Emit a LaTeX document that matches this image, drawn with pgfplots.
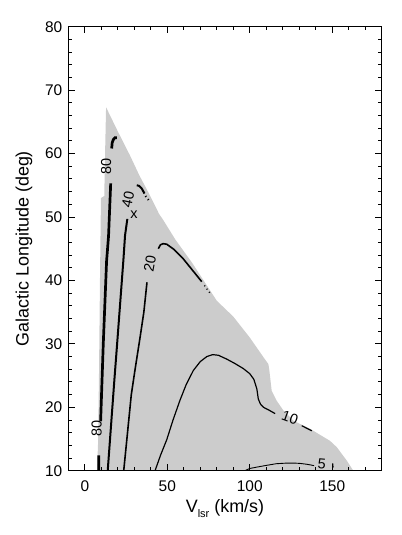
\documentclass[border=0pt]{standalone}
\usepackage{pgfplots}
\pgfplotsset{compat=1.18}
\usepackage{fontspec}
\setmainfont{Liberation Sans}
\definecolor{regiongray}{RGB}{204,204,204}

\begin{document}
\begin{tikzpicture}
\begin{axis}[
    scale only axis,
    width=313.4bp, height=444bp,
    xmin=-10, xmax=180,
    ymin=10, ymax=80,
    xtick={0,50,...,150},
    minor xtick={-10,0,...,180},
    ytick={10,20,...,80},
    minor ytick={10,12,...,80},
    tick align=inside,
    xtick pos=both, ytick pos=both,
    major tick length=6.5bp,
    minor tick length=3.5bp,
    axis line style={line width=0.9bp},
    every tick/.style={black, line width=0.9bp},
    axis on top,
    /pgf/number format/assume math mode=true,
    tick label style={font=\fontsize{15.5}{18}\selectfont},
    xticklabel style={yshift=-6bp},
    yticklabel style={xshift=-2.5bp},
    xlabel={V\raisebox{-0.45ex}{\fontsize{11}{13}\selectfont lsr} (km/s)},
    ylabel={Galactic Longitude (deg)},
    every axis x label/.style={at={(axis description cs:0.5,-0.095)},
        anchor=base, font=\fontsize{18}{21}\selectfont},
    every axis y label/.style={at={(axis description cs:-0.1414,0.5)},
        anchor=center, rotate=90, font=\fontsize{18}{21}\selectfont},
]

% region covered by the model
\addplot[fill=regiongray, draw=none] coordinates {
    (7.4,10) (8.0,14) (8.6,25) (9.2,40) (9.8,53) (11.8,53.3) (12.3,60)
    (12.9,67.3) (20,63.5) (27.4,59.7) (33,56.6) (39.5,53.4) (45,50.5)
    (47.6,49.5) (55,46.4) (65,42.8) (72,40) (80,36.8) (90,34.3) (100,31)
    (108.3,27.9) (111.3,26.8) (111.9,25.8) (113.3,22.6) (116.4,21.0)
    (120.4,19.5) (126.4,17.9) (136.6,16.6) (148.7,14.7) (152.8,13.7)
    (158.8,11.6) (162.8,10)
} \closedcycle;

% contour 80
\addplot[black, line width=2.7bp] coordinates {
    (16.3,60.8) (16.6,61.7) (17.3,62.2) (18.3,62.5) (19.5,62.5)
};
\addplot[black, line width=2.7bp] coordinates {
    (15.7,55.3) (14.4,47) (13.2,43) (11.2,30) (9.6,17.8)
};
\addplot[black, line width=2.7bp] coordinates {
    (8.5,12.4) (8.4,10)
};

% contour 40
\addplot[black, line width=2bp] coordinates {
    (25.8,49.7) (24.4,47.1) (23.4,43.2) (19.6,30) (17.9,24.2) (13.9,10)
};
\addplot[black, line width=2bp] coordinates {
    (31.5,55.0) (33,54.9) (34.5,54.5) (36.2,53.7)
};
\addplot[black, line width=2bp, dash pattern=on 1bp off 3bp] coordinates {
    (36.8,53.3) (39.5,52.4)
};

% contour 20
\addplot[black, line width=1.6bp] coordinates {
    (37.7,39.7) (35.8,35) (33.5,31) (30.5,26) (28.2,22) (23.6,10)
};
\addplot[black, line width=1.6bp] coordinates {
    (44.6,45.0) (45.8,45.6) (47.5,45.8) (49.7,45.7) (54,44.9) (59.7,43.4)
    (65,41.7) (70.9,39.8)
};
\addplot[black, line width=1.4bp, dash pattern=on 1bp off 3bp] coordinates {
    (72.5,39.2) (76.5,37.8)
};

% contour 10
\addplot[black, line width=1.2bp] coordinates {
    (42.6,10) (46,12.5) (49.7,14.9) (53.5,18) (57.7,21.1) (61.5,23.6)
    (65.8,25.8) (70,27.2) (74,28.0) (77.5,28.3) (81,28.2) (86,27.6)
    (91,26.9) (96.1,26.1) (100,25.3) (102.5,24.4) (104.3,22.9) (105.2,21.3)
    (106.5,20.5) (108.3,20.0) (112,19.5) (115.4,19.0)
};
\addplot[black, line width=1.2bp] coordinates {
    (131.5,17.1) (137.6,16.3)
};

% contour 5
\addplot[black, line width=0.9bp] coordinates {
    (97,10) (100,10.35) (105,10.6) (110.3,10.85) (116,11.1) (122.4,11.2)
    (127,11.2) (130.5,11.15) (135,11.0) (139,10.8)
};
\addplot[black, line width=0.9bp] coordinates {
    (150.3,11.2) (150.6,10.5)
};

% contour labels
\begin{scope}[every node/.style={font=\fontsize{14.5}{17}\selectfont, inner sep=0pt}]
\node[rotate=90] at (axis cs:12.9,57.9) {80};
\node[rotate=90] at (axis cs:7.2,16.6) {80};
\node[rotate=78] at (axis cs:26.2,52.8) {40};
\node at (axis cs:29.8,50.4) {x};
\node[rotate=80] at (axis cs:39.5,42.6) {20};
\node[rotate=-20] at (axis cs:124.4,18.3) {10};
\node[rotate=-5] at (axis cs:143.7,11.1) {5};
\end{scope}

\end{axis}
\pgfresetboundingbox
\path ([shift={(-68.3bp,-64.3bp)}]current axis.south west)
    rectangle ([shift={(20.3bp,26.7bp)}]current axis.north east);
\end{tikzpicture}
\end{document}
